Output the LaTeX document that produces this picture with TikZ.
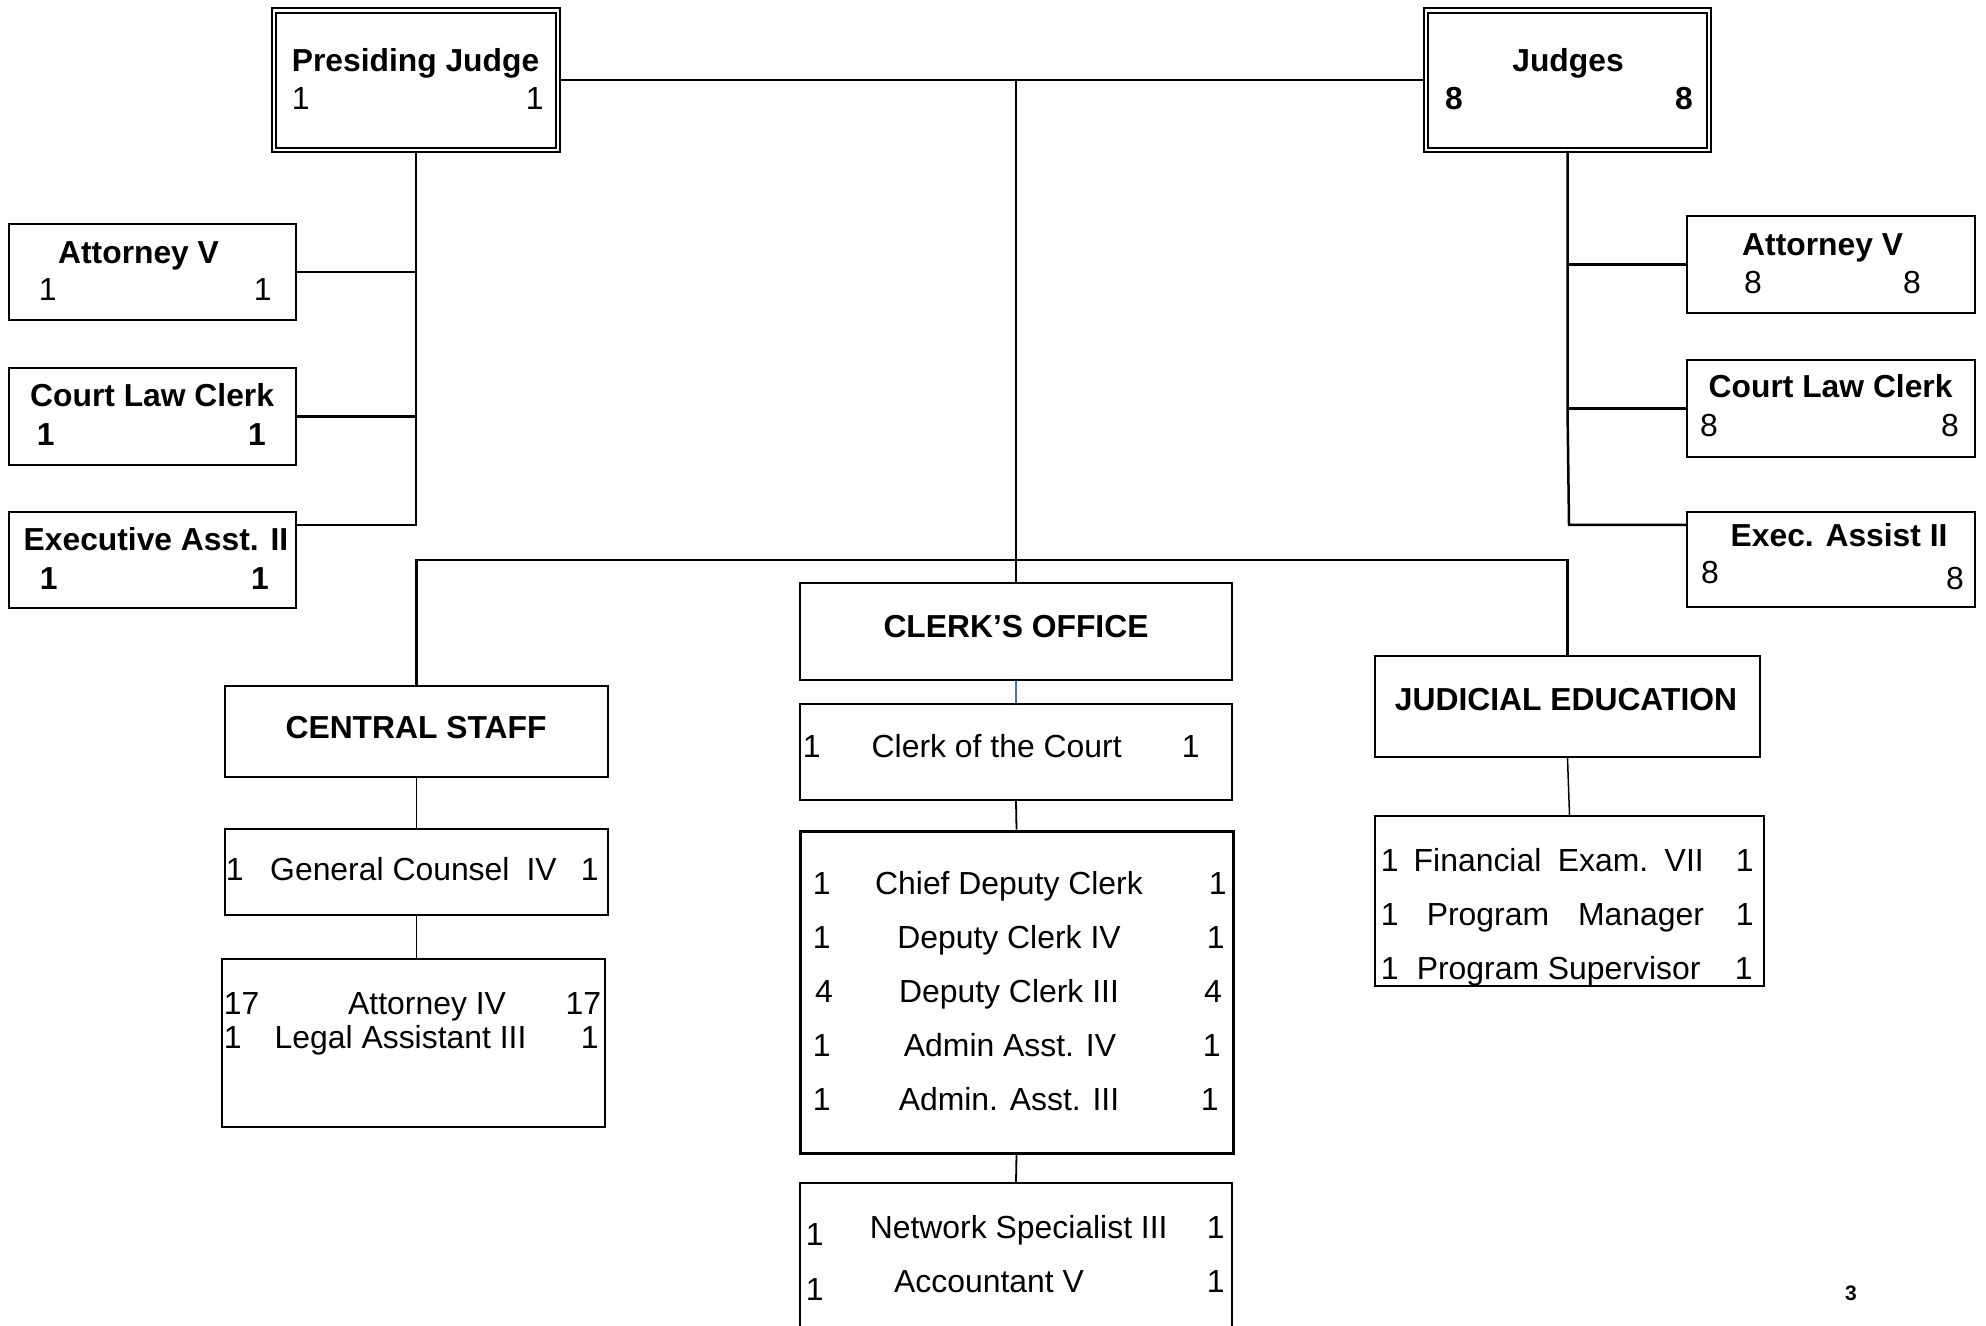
\documentclass[tikz,border=0pt]{standalone}
\usepackage{fontspec}
\setmainfont{Liberation Sans}
\newcommand{\regf}{\fontsize{31.9}{38}\selectfont}
\newcommand{\bldf}{\fontsize{31.8}{37}\selectfont\bfseries}
\definecolor{lnblue}{HTML}{4472C4}
\begin{document}
\begin{tikzpicture}[x=1pt,y=-1pt,
  box/.style={draw, rectangle, line width=2.2pt, inner sep=0pt},
  dbox/.style={draw, rectangle, double, double distance=2.4pt, line width=2pt, inner sep=0pt},
  conn/.style={line width=2.5pt},
  sconn/.style={line width=1.5pt},
  mconn/.style={line width=1.8pt},
  bconn/.style={line width=1.2pt, draw=lnblue},
  rt/.style={inner sep=0pt, font=\regf},
  bt/.style={inner sep=0pt, font=\bldf},
  lft/.style={anchor=base west},
  rgt/.style={anchor=base east},
  ctr/.style={anchor=base}]
\useasboundingbox (0,0) rectangle (1986,1325);
\clip (0,0) rectangle (1986,1325);

% ---- boxes ----
\node[dbox, minimum width=283.6pt, minimum height=139.3pt] (pj) at (416,80.2) {};
\node[dbox, minimum width=282.6pt, minimum height=139.3pt] (jd) at (1567.5,80.2) {};
\node[box, minimum width=287pt, minimum height=96pt] (attL) at (152.5,272) {};
\node[box, minimum width=287pt, minimum height=97pt] (clcL) at (152.5,416.5) {};
\node[box, minimum width=287pt, minimum height=96pt] (eaL) at (152.5,560) {};
\node[box, minimum width=288pt, minimum height=97pt] (attR) at (1831,264.5) {};
\node[box, minimum width=288pt, minimum height=97pt] (clcR) at (1831,408.5) {};
\node[box, minimum width=288pt, minimum height=95pt] (eaR) at (1831,559.5) {};
\node[box, minimum width=383pt, minimum height=91pt] (cs) at (416.5,731.5) {};
\node[box, minimum width=383pt, minimum height=86pt] (gc) at (416.5,872) {};
\node[box, minimum width=383pt, minimum height=168pt] (ai) at (413.5,1043) {};
\node[box, minimum width=432pt, minimum height=97pt] (co) at (1016,631.5) {};
\node[box, minimum width=432pt, minimum height=96pt] (cc) at (1016,752) {};
\node[box, line width=3pt, minimum width=433pt, minimum height=322pt] (cd) at (1016.5,992) {};
\node[box, minimum width=432pt, minimum height=158pt] (ns) at (1016,1262) {};
\node[box, minimum width=385pt, minimum height=101pt] (je) at (1567.5,706.5) {};
\node[box, minimum width=389pt, minimum height=170pt] (fe) at (1569.5,901) {};

% ---- connectors ----
\coordinate (bar) at (1016,560);
\coordinate (eaLc) at ([yshift=-14pt]eaL.north east);
\coordinate (eaRc) at ([yshift=-14pt]eaR.north west);
\coordinate (jdb) at (jd.south |- eaRc);
\draw[conn] (pj.east) -- (jd.west);
\draw[conn] (pj.east -| co.north) -- (co.north);
\draw[conn] (cs.north) -- (cs.north |- bar) -- (je.north |- bar) -- (je.north);
\draw[conn] (pj.south) -- (eaLc -| pj.south) -- (eaLc);
\draw[conn] (attL.east) -- (attL.east -| pj.south);
\draw[conn] (clcL.east) -- (clcL.east -| pj.south);
\draw[conn] (jd.south) -- (jd.south |- clcR.west) -- ([xshift=1.5pt]jdb) -- (eaRc);
\draw[conn] (attR.west) -- (attR.west -| jd.south);
\draw[conn] (clcR.west) -- (clcR.west -| jd.south);
\draw[sconn] (cs.south) -- (gc.north);
\draw[sconn] (gc.south) -- (gc.south |- ai.north);
\draw[bconn] (co.south) -- (cc.north);
\draw[mconn] (cc.south) -- (cd.north);
\draw[mconn] (cd.south) -- (ns.north);
\draw[sconn] (je.south) -- (fe.north);

% ---- texts ----
\node[bt, ctr] (pjT) at (415.5,71) {Presiding Judge};
\node[rt, lft] (pjA) at (291.6,109) {1};
\node[rt, rgt] (pjB) at (543.8,109) {1};

\node[bt, ctr] (jdT) at (1568,71) {Judges};
\node[bt, lft] (jdA) at (1445,109) {8};
\node[bt, rgt] (jdB) at (1693,109) {8};

\node[bt, lft] (attLT) at (58,263) {Attorney V};
\node[rt, lft] (attLA) at (38.6,300) {1};
\node[rt, rgt] (attLB) at (271.8,300) {1};

\node[bt, lft] (clcLT) at (30,406) {Court Law Clerk};
\node[bt, lft] (clcLA) at (36.6,445) {1};
\node[bt, rgt] (clcLB) at (266,445) {1};

\node[bt, lft] (eaLT) at (23.5,550) {Executive Asst. II};
\node[bt, lft] (eaLA) at (39.6,589) {1};
\node[bt, rgt] (eaLB) at (269,589) {1};

\node[bt, lft] (attRT) at (1742,255) {Attorney V};
\node[rt, lft] (attRA) at (1744,293) {8};
\node[rt, rgt] (attRB) at (1921,293) {8};

\node[bt, lft] (clcRT) at (1708.5,397) {Court Law Clerk};
\node[rt, lft] (clcRA) at (1700,436) {8};
\node[rt, rgt] (clcRB) at (1959,436) {8};

\node[bt, lft] (eaRT) at (1730.5,546) {Exec. Assist II};
\node[rt, lft] (eaRA) at (1701,583) {8};
\node[rt, rgt] (eaRB) at (1964,589) {8};

\node[bt, ctr] (csT) at (416,738) {CENTRAL STAFF};

\node[rt, lft] (gcA) at (225.6,880) {1};
\node[rt, lft] (gcT) at (270,880) {General Counsel\hspace{17pt}IV};
\node[rt, rgt] (gcB) at (598.8,880) {1};

\node[rt, lft] (aiA) at (223.6,1014) {17};
\node[rt, lft] (aiT) at (348,1014) {Attorney IV};
\node[rt, rgt] (aiB) at (601.4,1014) {17};
\node[rt, lft] (laA) at (223.6,1048) {1};
\node[rt, lft] (laT) at (274.5,1048) {Legal Assistant III};
\node[rt, rgt] (laB) at (598.8,1048) {1};

\node[bt, ctr] (coT) at (1016,637) {CLERK’S OFFICE};

\node[rt, lft] (ccA) at (802.6,757) {1};
\node[rt, lft] (ccT) at (871.5,757) {Clerk of the Court};
\node[rt, rgt] (ccB) at (1199.8,757) {1};

\node[rt, lft] (cdA1) at (812.6,894) {1};
\node[rt, ctr] (cdT1) at (1009,894) {Chief Deputy Clerk};
\node[rt, rgt] (cdB1) at (1226.8,894) {1};
\node[rt, lft] (cdA2) at (812.6,948) {1};
\node[rt, ctr] (cdT2) at (1009,948) {Deputy Clerk IV};
\node[rt, rgt] (cdB2) at (1224.8,948) {1};
\node[rt, lft] (cdA3) at (815,1002) {4};
\node[rt, ctr] (cdT3) at (1009,1002) {Deputy Clerk III};
\node[rt, rgt] (cdB3) at (1222,1002) {4};
\node[rt, lft] (cdA4) at (812.6,1056) {1};
\node[rt, ctr] (cdT4) at (1010,1056) {Admin Asst. IV};
\node[rt, rgt] (cdB4) at (1220.8,1056) {1};
\node[rt, lft] (cdA5) at (812.6,1110) {1};
\node[rt, ctr] (cdT5) at (1009,1110) {Admin. Asst. III};
\node[rt, rgt] (cdB5) at (1218.8,1110) {1};

\node[rt, lft] (nsA1) at (805.6,1245) {1};
\node[rt, lft] (nsT1) at (869.6,1238) {Network Specialist III};
\node[rt, rgt] (nsB1) at (1224.8,1238) {1};
\node[rt, lft] (nsA2) at (805.6,1300) {1};
\node[rt, lft] (nsT2) at (894,1292) {Accountant V};
\node[rt, rgt] (nsB2) at (1224.8,1292) {1};

\node[bt, ctr] (jeT) at (1566,710) {JUDICIAL EDUCATION};

\node[rt, lft] (feA1) at (1380.6,871) {1};
\node[rt, lft] (feT1) at (1413.5,871) {Financial\hspace{16.5pt}Exam.\hspace{16.5pt}VII};
\node[rt, rgt] (feB1) at (1753.8,871) {1};
\node[rt, lft] (feA2) at (1380.6,925) {1};
\node[rt, lft] (feT2) at (1426.6,925) {Program\hspace{29pt}Manager};
\node[rt, rgt] (feB2) at (1753.8,925) {1};
\node[rt, lft] (feA3) at (1380.6,979) {1};
\node[rt, lft] (feT3) at (1416.6,979) {Program Supervisor};
\node[rt, rgt] (feB3) at (1752.8,979) {1};

\node[inner sep=0pt, font=\fontsize{21}{25}\selectfont\bfseries, ctr] (pg) at (1851,1300) {3};
\end{tikzpicture}
\end{document}
